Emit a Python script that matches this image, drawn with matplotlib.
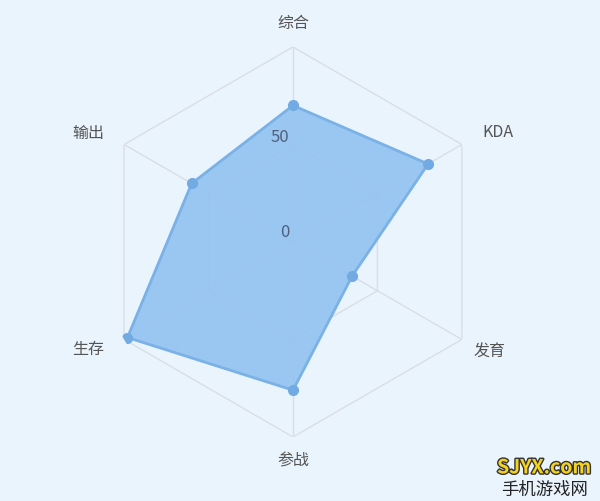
import numpy as np
import matplotlib
matplotlib.use("Agg")
import matplotlib.pyplot as plt
import matplotlib.patheffects as pe

plt.rcParams['font.family'] = ['Noto Sans CJK SC', 'DejaVu Sans']

categories = ['综合', 'KDA', '发育', '参战', '生存', '输出']
values = [70, 80, 35, 76, 98, 60]
rings = [50, 100]
tick_labels = ['0', '50']
tick_values = [0, 50]

bg = '#eaf4fd'
fig = plt.figure(figsize=(6.0, 5.02), dpi=100)
fig.patch.set_facecolor(bg)
ax = fig.add_axes([0.1633, 0.1275, 0.65, 0.777], projection='polar')
ax.set_facecolor('none')
ax.set_theta_zero_location('N')
ax.set_theta_direction(-1)
ax.set_ylim(0, 100)
ax.grid(False)
ax.set_xticks([])
ax.set_yticks([])
ax.spines['polar'].set_visible(False)

n = len(categories)
angles = np.linspace(0, 2 * np.pi, n, endpoint=False)
closed = np.concatenate([angles, angles[:1]])

grid_c = '#d9dee5'
for r in rings:
    ax.plot(closed, [r] * (n + 1), color=grid_c, lw=1.0, zorder=1)
for a in angles:
    ax.plot([a, a], [0, 100], color=grid_c, lw=1.0, zorder=1)

vals = np.array(values + values[:1], dtype=float)
ax.fill(closed, vals, color='#92c2f0', alpha=0.9, zorder=2, lw=0)
ax.plot(closed, vals, color='#7ab1e6', lw=2.0, zorder=3)
ax.plot(angles, values, 'o', color='#72aae3', ms=7, zorder=4)

label_offsets = [(0, 24), (36, 13), (28, -11), (0, -23), (-36, -9), (-36, 12)]
for a, name, off in zip(angles, categories, label_offsets):
    ax.annotate(name, xy=(a, 100), xytext=off, textcoords='offset pixels',
                ha='center', va='center', fontsize=11.5, color='#555555',
                annotation_clip=False)

tick_offsets = [(-3, 10), (-4, 8)]
for tv, tl, off in zip(tick_values, tick_labels, tick_offsets):
    ax.annotate(tl, xy=(0, tv), xytext=off, textcoords='offset pixels',
                ha='right', va='center', fontsize=12, color='#4f607a', zorder=5)

fig.text(0.907, 0.066, 'SJYX.com', ha='center', va='center', fontsize=14, fontweight='bold',
         color='#f5d21e', path_effects=[pe.withStroke(linewidth=2, foreground='#333333')])
fig.text(0.907, 0.024, '手机游戏网', ha='center', va='center', fontsize=12.5, color='#222222')

fig.savefig('out.png', dpi=100, facecolor=bg)
